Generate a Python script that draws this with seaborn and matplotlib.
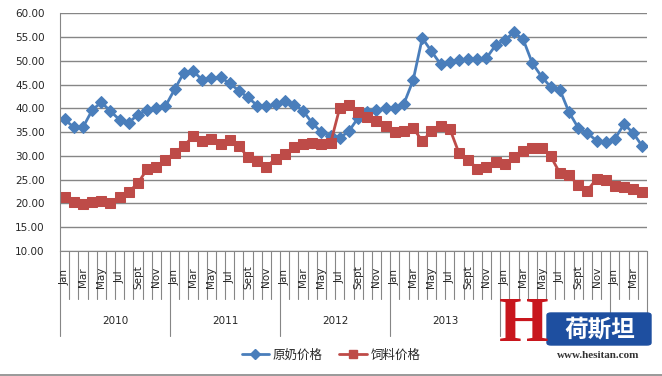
import pandas as pd
import matplotlib.pyplot as plt
import matplotlib.transforms as mtransforms
from matplotlib.patches import FancyBboxPatch
from matplotlib.lines import Line2D
import seaborn as sns

# ------------------------
# Données
# ------------------------
years = ["2010", "2011", "2012", "2013", "2014", "2015"]
# années dont l'étiquette est cachée par le filigrane
hidden_years = ["2014", "2015"]
months = ["Jan", "Feb", "Mar", "Apr", "May", "Jun",
          "Jul", "Aug", "Sept", "Oct", "Nov", "Dec"]
shown_months = ["Jan", "Mar", "May", "Jul", "Sept", "Nov"]
months_per_year = [12, 12, 12, 12, 12, 4]

milk_price = [37.7, 36.0, 36.0, 39.6, 41.3, 39.4, 37.6, 37.0, 38.7, 39.6, 40.0, 40.5,
              44.0, 47.5, 47.9, 46.0, 46.3, 46.5, 45.3, 43.7, 42.3, 40.6, 40.4, 40.9,
              41.5, 40.8, 39.5, 36.9, 35.0, 34.2, 33.8, 35.2, 38.0, 39.2, 39.6, 40.0,
              40.1, 41.0, 45.9, 54.8, 52.0, 49.3, 49.7, 50.2, 50.3, 50.3, 50.6, 53.3,
              54.4, 56.0, 54.5, 49.5, 46.7, 44.5, 43.9, 39.2, 35.9, 34.8, 33.2, 32.9,
              33.6, 36.7, 34.8, 32.0]

feed_price = [21.4, 20.4, 19.8, 20.3, 20.6, 20.0, 21.4, 22.4, 24.3, 27.2, 27.7, 29.1,
              30.7, 32.1, 34.1, 33.2, 33.5, 32.6, 33.3, 32.1, 29.7, 29.0, 27.7, 29.4,
              30.5, 31.8, 32.5, 32.8, 32.6, 32.7, 40.1, 40.8, 39.2, 38.2, 37.3, 36.2,
              35.0, 35.2, 35.9, 33.1, 35.2, 36.2, 35.7, 30.6, 29.2, 27.3, 27.7, 28.7,
              28.2, 29.8, 31.0, 31.7, 31.7, 29.9, 26.4, 25.9, 23.9, 22.7, 25.2, 25.0,
              23.6, 23.4, 23.1, 22.5]

series_names = ["原奶价格", "饲料价格"]

# ------------------------
# Style
# ------------------------
sns.set_style("white")
plt.rcParams['font.family'] = ['DejaVu Sans', 'Noto Sans CJK SC']

blue = "#4A7EBB"
red = "#BE4B48"
grey = "#868686"

labels = []
for y, n in zip(years, months_per_year):
    labels += [f"{m} {y}" for m in months[:n]]

df = pd.DataFrame({"idx": range(len(milk_price)), "label": labels,
                   "milk": milk_price, "feed": feed_price})

fig = plt.figure(figsize=(6.62, 3.76), dpi=100)
ax = fig.add_axes([60 / 662, 1 - 251 / 376, 587 / 662, 237.7 / 376])

sns.lineplot(data=df, x="idx", y="milk", ax=ax, color=blue, lw=2.0,
             marker="D", markersize=6.3, markeredgecolor=blue, label=series_names[0])
sns.lineplot(data=df, x="idx", y="feed", ax=ax, color=red, lw=2.0,
             marker="s", markersize=7.3, markeredgecolor=red, label=series_names[1])

ax.set_xlim(-0.5, len(milk_price) - 0.5)
ax.set_ylim(10, 60)
ax.set_yticks(range(10, 61, 5))
ax.set_yticklabels([f"{v:.2f}" for v in range(10, 61, 5)], fontsize=7.5)
ax.tick_params(axis="y", length=0, pad=11)
ax.set_xticks([])
ax.set_xlabel("")
ax.set_ylabel("")
ax.grid(axis="y", color=grey, lw=1)
for s in ["top", "right"]:
    ax.spines[s].set_visible(False)
ax.spines["left"].set_color(grey)
ax.spines["bottom"].set_color(grey)
if ax.get_legend():
    ax.get_legend().remove()

# ------------------------
# Axe des catégories à deux niveaux
# ------------------------
trans = mtransforms.blended_transform_factory(ax.transData, ax.transAxes)
start = 0
for y, n in zip(years, months_per_year):
    for k in range(n):
        i = start + k
        if k > 0:
            ax.plot([i - 0.5, i - 0.5], [0, -0.202], transform=trans,
                    color=grey, lw=0.8, clip_on=False)
        if months[k] in shown_months:
            ax.text(i, -0.109, months[k], transform=trans, rotation=90,
                    ha="center", va="center", fontsize=7.5)
    ax.plot([start - 0.5, start - 0.5], [0, -0.3576], transform=trans,
            color=grey, lw=0.8, clip_on=False)
    if y not in hidden_years:
        ax.text(start + n / 2 - 0.5, -0.294, y, transform=trans,
                ha="center", va="center", fontsize=7.5)
    start += n
ax.plot([start - 0.5, start - 0.5], [0, -0.3576], transform=trans,
        color=grey, lw=0.8, clip_on=False)

# ------------------------
# Légende
# ------------------------
handles = [Line2D([], [], color=blue, lw=2.0, marker="D", markersize=5),
           Line2D([], [], color=red, lw=2.0, marker="s", markersize=6)]
fig.legend(handles, series_names, loc="center", bbox_to_anchor=(0.5, 0.056),
           ncol=2, frameon=False, handlelength=2.2, handletextpad=0.3,
           columnspacing=1.3, prop={"family": ["Noto Sans CJK SC"], "size": 9})

# bordure inférieure
fig.add_artist(Line2D([0, 1], [1.5 / 376, 1.5 / 376], color="#888888", lw=1.2))

# ------------------------
# Filigrane
# ------------------------
fig.add_artist(FancyBboxPatch((547 / 662, 31 / 376), 104 / 662, 32 / 376,
                              boxstyle="round,pad=0,rounding_size=0.006",
                              transform=fig.transFigure, color="#1E4FA0", zorder=5))
fig.text(600 / 662, 47 / 376, "荷斯坦", color="white", fontsize=17, weight="bold",
         family=["Noto Sans CJK SC"], ha="center", va="center", zorder=6)
fig.text(598 / 662, 20 / 376, "www.hesitan.com", color="#333333", fontsize=8,
         weight="bold", family=["Liberation Serif"], ha="center", va="center", zorder=6)
fig.text(524 / 662, 50 / 376, "H", color="#C8161D", fontsize=46, weight="bold",
         family=["Liberation Serif"], ha="center", va="center", zorder=6)

plt.savefig("out.png", dpi=100)
plt.close()
